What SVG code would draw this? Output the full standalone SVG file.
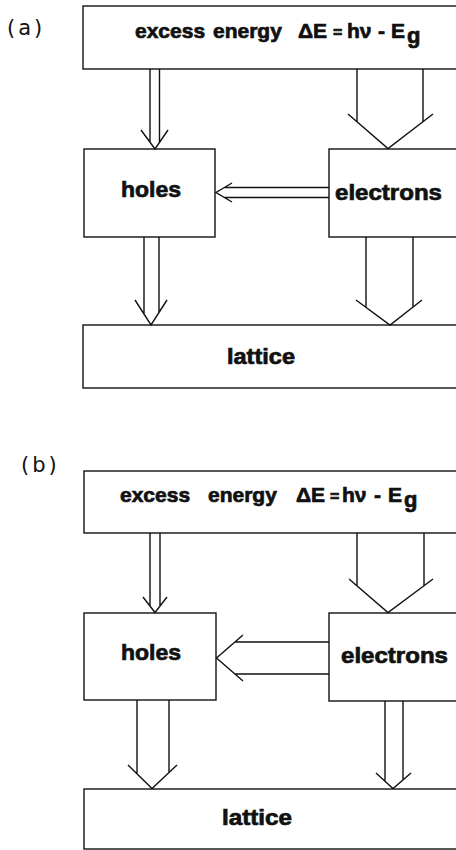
<svg xmlns="http://www.w3.org/2000/svg" width="456" height="850" viewBox="0 0 456 850">
<style>
.box{fill:#fff;stroke:#111;stroke-width:1.4}
.ar{fill:none;stroke:#111;stroke-width:1.4;stroke-linejoin:miter;stroke-linecap:butt}
.lbl{font-family:"Liberation Sans",Arial,sans-serif;font-weight:bold;font-size:22px;fill:#111;stroke:#111;stroke-width:0.7}
.hd{font-size:21px}
.tag{font-family:"DejaVu Sans",sans-serif;font-size:21px;fill:#111;letter-spacing:3px}
.sm{font-size:16px}
.sub{font-size:22px}
</style>
<rect width="456" height="850" fill="#fff"/>
<!-- panel (a) -->
<text id="tag-a" class="tag" x="7" y="35">(a)</text>
<g id="a-energy">
<rect class="box" x="83" y="6" width="390" height="63"/>
<text class="lbl hd" y="38"><tspan x="135">excess</tspan><tspan x="213">energy</tspan><tspan x="298">ΔE</tspan><tspan x="333" class="sm">=</tspan><tspan x="347">hν</tspan><tspan x="378">-</tspan><tspan x="391">E</tspan><tspan x="407" dy="5" class="sub">g</tspan></text>
</g>
<g id="a-holes">
<rect class="box" x="84" y="149" width="131" height="88"/>
<text class="lbl" x="121" y="197" textLength="60" lengthAdjust="spacingAndGlyphs">holes</text>
</g>
<g id="a-electrons">
<rect class="box" x="329" y="149" width="140" height="88"/>
<text class="lbl" x="335" y="200" textLength="107" lengthAdjust="spacingAndGlyphs">electrons</text>
</g>
<g id="a-lattice">
<rect class="box" x="83" y="325" width="390" height="63"/>
<text class="lbl" x="227" y="364" textLength="68" lengthAdjust="spacingAndGlyphs">lattice</text>
</g>
<!-- panel (b) -->
<text id="tag-b" class="tag" x="21" y="472">(b)</text>
<g id="b-energy">
<rect class="box" x="84" y="471" width="390" height="62"/>
<text class="lbl hd" y="502"><tspan x="120">excess</tspan><tspan x="208">energy</tspan><tspan x="296">ΔE</tspan><tspan x="330" class="sm">=</tspan><tspan x="342">hν</tspan><tspan x="374">-</tspan><tspan x="388">E</tspan><tspan x="404" dy="5" class="sub">g</tspan></text>
</g>
<g id="b-holes">
<rect class="box" x="84" y="613" width="132" height="87"/>
<text class="lbl" x="121" y="660" textLength="60" lengthAdjust="spacingAndGlyphs">holes</text>
</g>
<g id="b-electrons">
<rect class="box" x="329" y="613" width="140" height="88"/>
<text class="lbl" x="341" y="663" textLength="107" lengthAdjust="spacingAndGlyphs">electrons</text>
</g>
<g id="b-lattice">
<rect class="box" x="84" y="789" width="390" height="60"/>
<text class="lbl" x="222" y="825" textLength="70" lengthAdjust="spacingAndGlyphs">lattice</text>
</g>
<g id="connectors">
<!-- a: energy -> holes -->
<path class="ar" d="M150,69 V142.2 M159.5,69 V142.4 M141,130 L155,149 L168,130"/>
<!-- a: energy -> electrons -->
<path class="ar" d="M357,69 V121.7 M423,69 V121.6 M348,114 L388,148.5 L433,114"/>
<!-- a: electrons -> holes -->
<path class="ar" d="M329,187.5 H224.4 M329,197.5 H224.4 M232,183 L216,192.5 L232,202"/>
<!-- a: holes -> lattice -->
<path class="ar" d="M144,237 V314 M159,237 V312.5 M135,300 L151,325 L167,300"/>
<!-- a: electrons -> lattice -->
<path class="ar" d="M366,237 V307.4 M413,237 V307 M356,300 L390,325 L422,300"/>
<!-- b: energy -> holes -->
<path class="ar" d="M150,533 V605.8 M160,533 V605.8 M143,597 L155,612.5 L167,597"/>
<!-- b: energy -> electrons -->
<path class="ar" d="M357,533 V585.8 M424,533 V585.6 M349,579 L388,612.5 L433,579"/>
<!-- b: electrons -> holes -->
<path class="ar" d="M329,642 H234.8 M329,674 H234.8 M243,635 L216.5,658 L243,681"/>
<!-- b: holes -> lattice -->
<path class="ar" d="M137,700 V773.3 M169,700 V772 M128,765 L152,788.5 L177,765"/>
<!-- b: electrons -> lattice -->
<path class="ar" d="M385,701 V780.4 M403,701 V779.2 M376,773 L393,788.5 L411,773"/>
</g>
</svg>
